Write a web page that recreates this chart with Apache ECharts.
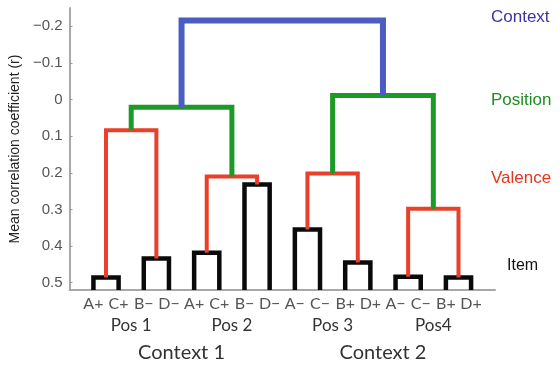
<!DOCTYPE html>
<html>
<head>
<meta charset="utf-8">
<script src="https://cdn.jsdelivr.net/npm/echarts@6/dist/echarts.min.js"></script>
<style>
html,body{margin:0;padding:0;background:#fff;}
#chart{width:560px;height:367px;}
</style>
</head>
<body>
<div id="chart"></div>
<script>
// ---- data ----
const leaves = ['A+','C+','B\u2212','D\u2212','A+','C+','B\u2212','D\u2212','A\u2212','C\u2212','B+','D+','A\u2212','C\u2212','B+','D+'];
const posLabels = ['Pos 1','Pos 2','Pos 3','Pos4'];
const contextLabels = ['Context 1','Context 2'];
const itemHeights = [0.486, 0.434, 0.418, 0.232, 0.355, 0.445, 0.484, 0.486];
const valenceHeights = [0.084, 0.21, 0.202, 0.298];
const positionHeights = [0.021, -0.011];
const contextHeights = [-0.216];
const levelNames = ['Context', 'Position', 'Valence', 'Item'];
const levelLabelValues = [-0.225, 0.002, 0.216, 0.453];
const yTickValues = [-0.2, -0.1, 0, 0.1, 0.2, 0.3, 0.4, 0.5];
const yTickLabels = ['\u22120.2', '\u22120.1', '0', '0.1', '0.2', '0.3', '0.4', '0.5'];
const leafBase = 0.52;

// ---- style ----
const levelColors = ['#0a0a0a', '#e8402a', '#1c9a27', '#4b5cc2']; // item, valence, position, context
const levelWidths = [4.5, 4, 5, 6];
const labelColors = {Context: '#3b35a3', Position: '#1f8c22', Valence: '#e5341f', Item: '#111'};

// ---- build dendrogram links ----
let nodes = leaves.map((l, i) => ({x: i, y: leafBase}));
const levels = [itemHeights, valenceHeights, positionHeights, contextHeights];
const series = [];
levels.forEach((heights, li) => {
  const next = [];
  heights.forEach((h, k) => {
    const a = nodes[2 * k], b = nodes[2 * k + 1];
    series.push({
      type: 'line',
      xAxisIndex: 0, yAxisIndex: 0,
      symbol: 'none',
      silent: true,
      z: 2 + li,
      lineStyle: {color: levelColors[li], width: levelWidths[li], cap: 'butt', join: 'miter'},
      data: [[a.x, a.y], [a.x, h], [b.x, h], [b.x, b.y]]
    });
    next.push({x: (a.x + b.x) / 2, y: h});
  });
  nodes = next;
});

const posCenters = [1.5, 5.5, 9.5, 13.5];
const ctxCenters = [3.5, 11.5];
const XMIN = -0.95, XMAX = 15.95, YMIN = -0.25, YMAX = 0.52;

const baseX = {type: 'value', min: XMIN, max: XMAX, gridIndex: 0, position: 'bottom',
  splitLine: {show: false}, axisTick: {show: false}};

const chart = echarts.init(document.getElementById('chart'), null, {renderer: 'canvas'});
chart.setOption({
  animation: false,
  backgroundColor: '#fff',
  grid: {left: 69, right: 65, top: 8, bottom: 77, containLabel: false},
  xAxis: [
    Object.assign({}, baseX, {
      axisLine: {show: true, onZero: false, lineStyle: {color: '#a8a8a8', width: 2}},
      axisLabel: {customValues: leaves.map((l, i) => i), formatter: v => leaves[Math.round(v)],
        color: '#555', fontSize: 16, fontFamily: 'Lato, "Open Sans", sans-serif', margin: 6}
    }),
    Object.assign({}, baseX, {
      axisLine: {show: false},
      axisLabel: {customValues: posCenters, formatter: v => posLabels[posCenters.indexOf(v)],
        color: '#333', fontSize: 17, fontFamily: 'Lato, "Open Sans", sans-serif', margin: 27}
    }),
    Object.assign({}, baseX, {
      axisLine: {show: false},
      axisLabel: {customValues: ctxCenters, formatter: v => contextLabels[ctxCenters.indexOf(v)],
        color: '#333', fontSize: 20, fontFamily: 'Lato, "Open Sans", sans-serif', margin: 53}
    })
  ],
  yAxis: [
    {
      type: 'value', min: YMIN, max: YMAX, inverse: true, position: 'left',
      name: 'Mean correlation coefficient (r)', nameLocation: 'middle', nameRotate: 90, nameGap: 44,
      nameTextStyle: {color: '#222', fontSize: 14, fontFamily: '"Liberation Sans", Arial, sans-serif'},
      splitLine: {show: false},
      axisLine: {show: true, onZero: false, lineStyle: {color: '#a8a8a8', width: 2}},
      axisTick: {show: true, inside: true, length: 3, customValues: yTickValues, lineStyle: {color: '#999', width: 1}},
      axisLabel: {customValues: yTickValues, formatter: v => yTickLabels[yTickValues.indexOf(v)],
        color: '#555', fontSize: 15, fontFamily: '"Liberation Sans", Arial, sans-serif', margin: 7}
    },
    {
      type: 'value', min: YMIN, max: YMAX, inverse: true, position: 'right',
      splitLine: {show: false}, axisLine: {show: false}, axisTick: {show: false},
      axisLabel: {customValues: levelLabelValues, margin: -4,
        formatter: v => { const n = levelNames[levelLabelValues.indexOf(v)]; return '{' + n + '|' + n + '}'; },
        rich: {
          Context: {color: labelColors.Context, fontSize: 17, fontFamily: '"Liberation Sans", Arial, sans-serif'},
          Position: {color: labelColors.Position, fontSize: 17, fontFamily: '"Liberation Sans", Arial, sans-serif'},
          Valence: {color: labelColors.Valence, fontSize: 17, fontFamily: '"Liberation Sans", Arial, sans-serif'},
          Item: {color: labelColors.Item, fontSize: 16, fontFamily: '"Liberation Sans", Arial, sans-serif', padding: [0, 0, 0, 16]}
        }
      }
    }
  ],
  series: series
});
</script>
</body>
</html>
